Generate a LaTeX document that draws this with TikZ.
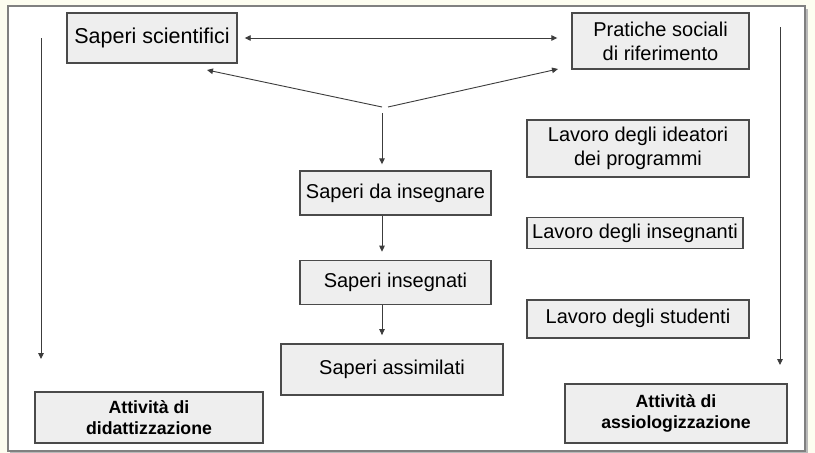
\documentclass[tikz,border=0pt]{standalone}
\usepackage{fontspec}
\setmainfont{Liberation Sans}
\usetikzlibrary{positioning, arrows.meta}
\definecolor{paper}{HTML}{FDFDF0}
\definecolor{boxfill}{HTML}{EEEEEE}
\definecolor{boxline}{HTML}{4A4A4A}
\definecolor{wire}{HTML}{3C3C3C}
\tikzset{
  sapere/.style={draw=boxline, fill=boxfill, line width=1.4pt, inner sep=0pt,
    align=center, font=\fontsize{20}{24}\selectfont},
  attivita/.style={sapere, font=\fontsize{17.7}{20.5}\selectfont\bfseries},
  flow/.style={draw=wire, line width=0.9pt},
}

\begin{document}
\begin{tikzpicture}[x=1pt, y=-1pt, >={Triangle[length=6pt, width=5.5pt]}]
   \useasboundingbox (0,0) rectangle (815,453);
   % Cornice
   \fill[paper] (0,0) rectangle (815,453);
   \fill[gray!55] (10,9) rectangle (808,453);
   \draw[gray, line width=1.5pt, fill=white] (8,6) rectangle (805,451);

   % Saperi di partenza
   \node[sapere, minimum width=170pt, minimum height=50pt, font=\fontsize{21.5}{25}\selectfont] (sci) at (152,38) {Saperi scientifici};
   \node[sapere, minimum width=177pt, minimum height=56pt] (prat) at (660.5,41) {Pratiche sociali\\di riferimento};

   % Colonna centrale
   \node[sapere, minimum width=191pt, minimum height=44pt] (dains) at (395.5,193) {Saperi da insegnare};
   \node[sapere, minimum width=191pt, minimum height=44pt, below=44pt of dains] (insegnati) {Saperi insegnati};
   \node[sapere, minimum width=222pt, minimum height=51pt, below=38pt of insegnati, xshift=-3.5pt] (assim) {Saperi assimilati};

   % Colonna destra
   \node[sapere, minimum width=222pt, minimum height=57pt] (ideat) at (638,148.5) {Lavoro degli ideatori\\dei programmi};
   \node[sapere, minimum width=216pt, minimum height=31pt, below=39pt of ideat.south west, anchor=north west] (insegnanti) {Lavoro degli insegnanti};
   \node[sapere, minimum width=222pt, minimum height=38pt, below=50pt of insegnanti.south west, anchor=north west] (studenti) {Lavoro degli studenti};

   % Attivita
   \node[attivita, minimum width=228pt, minimum height=51pt] (didatt) at (149,417.5) {Attività di\\didattizzazione};
   \node[attivita, minimum width=222pt, minimum height=59pt] (assiol) at (676,413.5) {Attività di\\assiologizzazione};

   % Punti liberi
   \coordinate (fork) at (382,107);
   \coordinate (sciin) at (207,70);
   \coordinate (pratin) at (558,69);
   \coordinate (ltop) at (41,38);
   \coordinate (lend) at (41,359);
   \coordinate (rtop) at (780,27);
   \coordinate (rend) at (780,365);

   % Frecce
   \draw[flow, <->, shorten <=7pt, shorten >=14pt] (sci.east) -- (prat.west |- sci.east);
   \draw[flow, ->] (fork) -- (sciin);
   \draw[flow, ->] ([xshift=6pt]fork) -- (pratin);
   \draw[flow, ->, shorten >=6pt] ([yshift=-6pt]fork) -- (dains.north -| fork);
   \draw[flow, ->, shorten >=8pt] (dains.south -| fork) -- (insegnati.north -| fork);
   \draw[flow, ->, shorten >=8pt] (insegnati.south -| fork) -- (assim.north -| fork);
   \draw[flow, ->] (ltop) -- (lend);
   \draw[flow, ->] (rtop) -- (rend);
\end{tikzpicture}
\end{document}
